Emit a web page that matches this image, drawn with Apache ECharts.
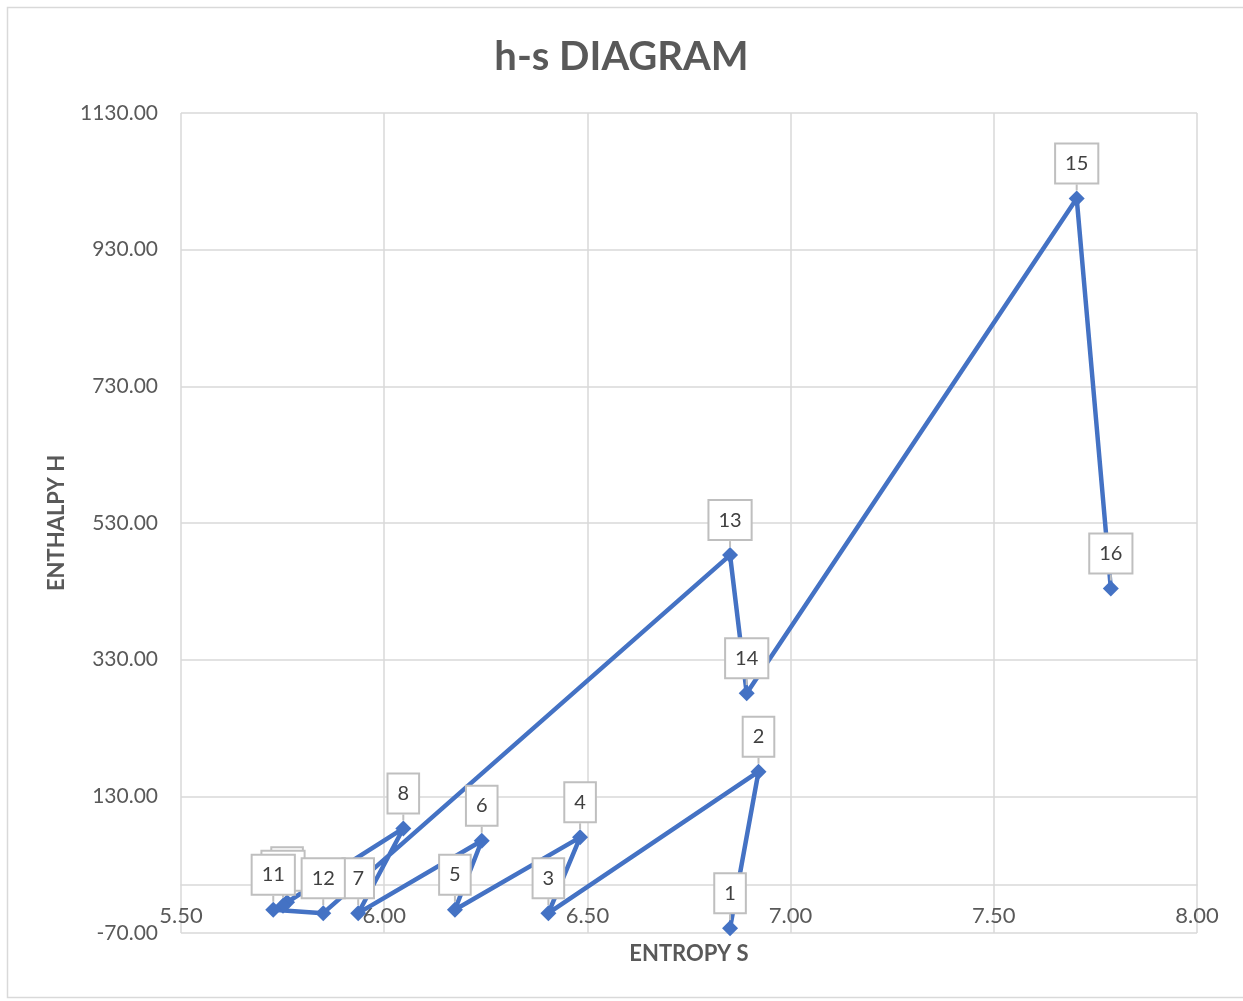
<!DOCTYPE html>
<html>
<head>
<meta charset="utf-8">
<script src="https://cdn.jsdelivr.net/npm/echarts@6/dist/echarts.min.js"></script>
<style>
html,body{margin:0;padding:0;background:#fff;}
#chart{width:1243px;height:1001px;}
</style>
</head>
<body>
<div id="chart"></div>
<script>
// Entropy S (x) and enthalpy h (y) of the 16 state points, in plotting order
const pointNames = ['1','2','3','4','5','6','7','8','9','10','11','12','13','14','15','16'];
const entropyS  = [6.851, 6.921, 6.404, 6.482, 6.174, 6.240, 5.936, 6.047, 5.761, 5.751, 5.727, 5.850, 6.851, 6.892, 7.704, 7.788];
const enthalpyH = [-63, 166, -41, 70, -36, 65, -41, 83, -25, -30, -36, -41, 483, 281, 1005, 434];

const xMin = 5.5, xMax = 8.0, xStep = 0.5;
const yMin = -70, yMax = 1130, yStep = 200;

const gridTop = 113, gridBottom = 68, chartHeight = 1001;
const plotHeight = chartHeight - gridTop - gridBottom;
// x axis sits on h = 0, as in the reference
const xAxisOffset = -plotHeight * (0 - yMin) / (yMax - yMin);

const chart = echarts.init(document.getElementById('chart'), null, {renderer: 'canvas'});
const seriesData = entropyS.map((s, i) => ({value: [s, enthalpyH[i]], name: pointNames[i]}));

const textColor = '#595959';
const gridColor = '#d9d9d9';
const font = 'Lato, "Open Sans", sans-serif';

chart.setOption({
  backgroundColor: '#fff',
  animation: false,
  title: {
    text: 'h-s DIAGRAM',
    left: 'center',
    top: 37,
    padding: 0,
    textStyle: {fontFamily: font, fontSize: 40, fontWeight: 'bold', color: textColor}
  },
  graphic: [{
    type: 'rect',
    shape: {x: 7.5, y: 7.5, width: 1240, height: 990},
    style: {fill: 'none', stroke: '#d9d9d9', lineWidth: 1.5},
    silent: true
  }],
  grid: {left: 181, right: 46, top: gridTop, bottom: gridBottom, containLabel: false, outerBoundsMode: 'none'},
  xAxis: {
    type: 'value',
    min: xMin, max: xMax, interval: xStep,
    offset: xAxisOffset,
    name: 'ENTROPY S',
    nameLocation: 'middle',
    nameGap: 58,
    nameTextStyle: {fontFamily: font, fontSize: 22, fontWeight: 'bold', color: textColor},
    axisLine: {show: true, onZero: false, lineStyle: {color: gridColor, width: 1.5}},
    axisTick: {show: false},
    axisLabel: {
      margin: 20, fontFamily: font, fontSize: 22, color: textColor,
      formatter: v => v.toFixed(2)
    },
    splitLine: {show: true, lineStyle: {color: gridColor, width: 1.5}}
  },
  yAxis: {
    type: 'value',
    min: yMin, max: yMax, interval: yStep,
    name: 'ENTHALPY H',
    nameLocation: 'middle',
    nameGap: 113,
    nameRotate: 90,
    nameTextStyle: {fontFamily: font, fontSize: 22, fontWeight: 'bold', color: textColor},
    axisLine: {show: false},
    axisTick: {show: false},
    axisLabel: {
      margin: 23, fontFamily: font, fontSize: 21, color: textColor,
      formatter: v => v.toFixed(2)
    },
    splitLine: {show: true, lineStyle: {color: gridColor, width: 1.5}}
  },
  series: [{
    type: 'line',
    data: seriesData,
    symbol: 'diamond',
    symbolSize: 16,
    showAllSymbol: true,
    itemStyle: {color: '#4472C4'},
    lineStyle: {color: '#4472C4', width: 4.5},
    z: 3,
    label: {
      show: true,
      position: 'top',
      distance: 0,
      formatter: p => p.name,
      fontFamily: font,
      fontSize: 20,
      color: '#404040',
      backgroundColor: '#fff',
      borderColor: '#bfbfbf',
      borderWidth: 2,
      padding: [9, 9, 9, 9]
    },
    labelLayout: {dy: -8, hideOverlap: false},
    labelLine: {show: true, lineStyle: {color: '#bfbfbf', width: 2}}
  }]
});
</script>
</body>
</html>
